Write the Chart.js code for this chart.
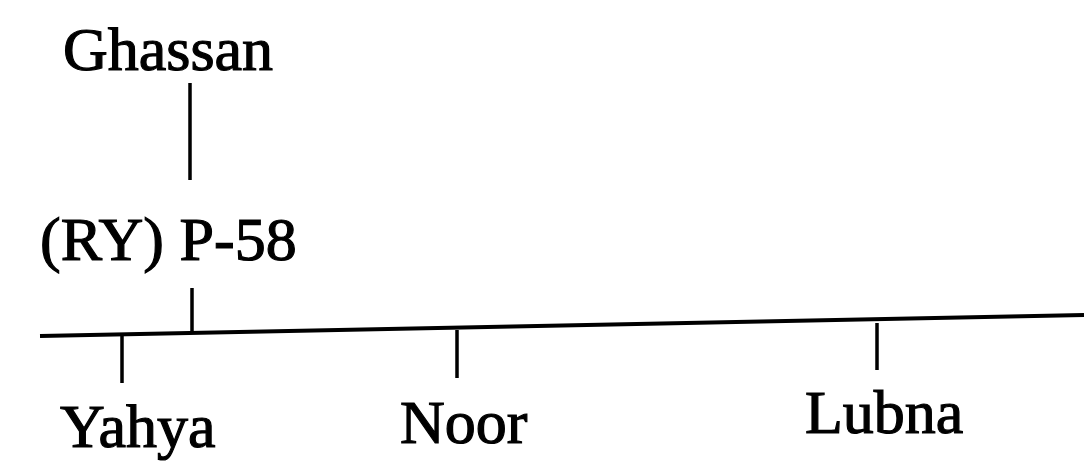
<!DOCTYPE html>
<html lang="en">
<head>
    <meta charset="UTF-8">
    <title>Ghassan family line</title>
    <script src="https://cdn.jsdelivr.net/npm/chart.js"></script>
    <style>
        body {
            margin: 0;
            padding: 0;
            background-color: #ffffff;
        }

        #tree {
            display: block;
        }
    </style>
</head>
<body>
    <canvas id="tree" width="1084" height="470"></canvas>

    <script>
        // names and where their text sits (page units, y grows downward)
        var labelNames = ['Ghassan', '(RY) P-58', 'Yahya', 'Noor', 'Lubna'];
        var labelX = [63, 40, 60, 400, 805];
        var labelY = [70, 260, 447, 443, 433];

        // stem from Ghassan down to P-58, and the short stub onto the bar
        var stemX = [190, 190];
        var stemY = [83, 180];
        var stubX = [192, 192];
        var stubY = [288, 334];

        // sibling bar (scan is slightly tilted)
        var barX = [40, 1084];
        var barY = [336, 315];

        // drops to each child
        var dropX = [122, 457, 877];
        var dropTop = [334, 330, 323];
        var dropBottom = [383, 378, 370];

        function segment(xs, ys, w) {
            return {
                data: [{ x: xs[0], y: ys[0] }, { x: xs[1], y: ys[1] }],
                showLine: true,
                pointRadius: 0,
                borderColor: '#000000',
                borderWidth: w,
                tension: 0
            };
        }

        var datasets = [segment(stemX, stemY, 3.5), segment(stubX, stubY, 3.5), segment(barX, barY, 4)];
        for (var i = 0; i < dropX.length; i++) {
            datasets.push(segment([dropX[i], dropX[i]], [dropTop[i], dropBottom[i]], 3.5));
        }

        // draws the names through the chart scales
        var namePlugin = {
            id: 'names',
            afterDatasetsDraw: function (chart) {
                var ctx = chart.ctx;
                var xs = chart.scales.x;
                var ys = chart.scales.y;
                ctx.save();
                ctx.fillStyle = '#000000';
                ctx.strokeStyle = '#000000';
                ctx.lineWidth = 1.2;
                ctx.font = '62px "Liberation Serif", "Times New Roman", serif';
                ctx.textAlign = 'left';
                ctx.textBaseline = 'alphabetic';
                for (var i = 0; i < labelNames.length; i++) {
                    var px = xs.getPixelForValue(labelX[i]);
                    var py = ys.getPixelForValue(labelY[i]);
                    ctx.fillText(labelNames[i], px, py);
                    ctx.strokeText(labelNames[i], px, py);
                }
                ctx.restore();
            }
        };

        var whiteBg = {
            id: 'whiteBg',
            beforeDraw: function (chart) {
                var ctx = chart.ctx;
                ctx.save();
                ctx.fillStyle = '#ffffff';
                ctx.fillRect(0, 0, chart.width, chart.height);
                ctx.restore();
            }
        };

        var ctx = document.getElementById('tree').getContext('2d');
        var treeChart = new Chart(ctx, {
            type: 'scatter',
            data: { datasets: datasets },
            options: {
                responsive: false,
                animation: false,
                devicePixelRatio: 1,
                layout: { padding: 0 },
                plugins: {
                    legend: { display: false },
                    tooltip: { enabled: false }
                },
                scales: {
                    x: { type: 'linear', min: 0, max: 1084, display: false },
                    y: { type: 'linear', min: 0, max: 470, reverse: true, display: false }
                }
            },
            plugins: [whiteBg, namePlugin]
        });
    </script>
</body>
</html>
